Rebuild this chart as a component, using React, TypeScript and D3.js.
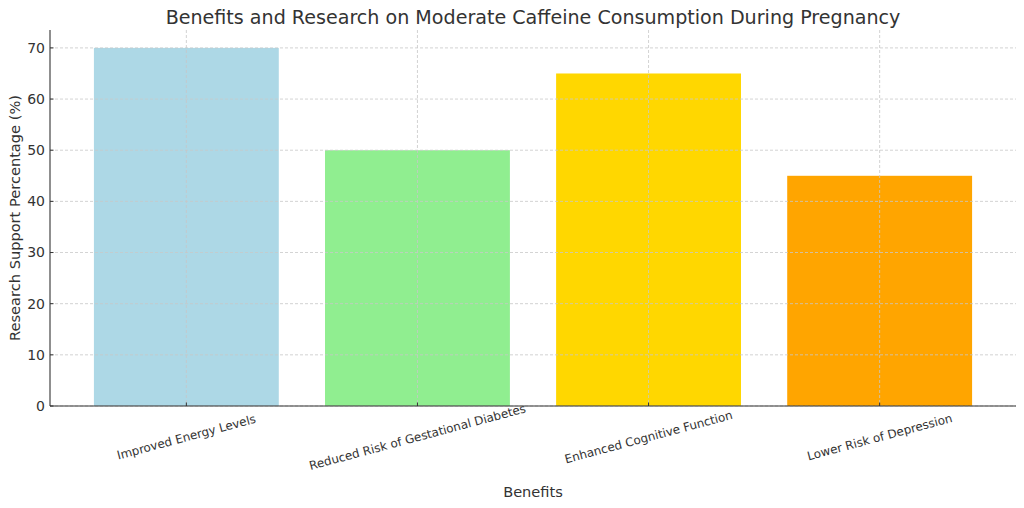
import React from "react";
import * as d3 from "d3";

const categories = [
  "Improved Energy Levels",
  "Reduced Risk of Gestational Diabetes",
  "Enhanced Cognitive Function",
  "Lower Risk of Depression",
];
const values = [70, 50, 65, 45];
const colors = ["#ADD8E6", "#90EE90", "#FFD700", "#FFA500"];
const yTicks = [0, 10, 20, 30, 40, 50, 60, 70];
const title = "Benefits and Research on Moderate Caffeine Consumption During Pregnancy";
const xLabel = "Benefits";
const yLabel = "Research Support Percentage (%)";

const W = 1024;
const H = 508;
const left = 50;
const right = 1016;
const top = 30;
const bottom = 406;
const font = "'DejaVu Sans', sans-serif";
const textColor = "#333333";

export default function App() {
  const x = d3
    .scaleLinear()
    .domain([-0.59, categories.length - 1 + 0.59])
    .range([left, right]);
  const y = d3.scaleLinear().domain([0, 73.5]).range([bottom, top]);
  const bw = x(0.4) - x(-0.4);

  return (
    <svg
      width={W}
      height={H}
      style={{ position: "absolute", left: 0, top: 0, background: "#fff" }}
      fontFamily={font}
    >
      {categories.map((c, i) => (
        <rect
          key={c}
          x={x(i) - bw / 2}
          y={y(values[i])}
          width={bw}
          height={y(0) - y(values[i])}
          fill={colors[i]}
        />
      ))}
      {yTicks.map((t) => (
        <line
          key={"gy" + t}
          x1={left}
          x2={right}
          y1={y(t)}
          y2={y(t)}
          stroke="#c8c8c8"
          strokeWidth={0.8}
          strokeDasharray="3,2"
        />
      ))}
      {categories.map((c, i) => (
        <line
          key={"gx" + c}
          x1={x(i)}
          x2={x(i)}
          y1={top}
          y2={bottom}
          stroke="#c8c8c8"
          strokeWidth={0.8}
          strokeDasharray="3,2"
        />
      ))}
      <line x1={left} x2={left} y1={top} y2={bottom} stroke="#333" strokeWidth={1.1} />
      <line x1={left} x2={right} y1={bottom} y2={bottom} stroke="#333" strokeWidth={1.1} />
      {yTicks.map((t) => (
        <g key={"ty" + t}>
          <line x1={left} x2={left + 3.5} y1={y(t)} y2={y(t)} stroke="#333" strokeWidth={1} />
          <text
            x={left - 5}
            y={y(t)}
            dy="0.35em"
            textAnchor="end"
            fontSize={14}
            fill={textColor}
          >
            {t}
          </text>
        </g>
      ))}
      {categories.map((c, i) => (
        <g key={"tx" + c}>
          <line x1={x(i)} x2={x(i)} y1={bottom} y2={bottom - 3.5} stroke="#333" strokeWidth={1} />
          <text
            transform={`translate(${x(i)},${bottom + 31}) rotate(-15)`}
            textAnchor="middle"
            dy="0.35em"
            fontSize={11.9}
            fill={textColor}
          >
            {c}
          </text>
        </g>
      ))}
      <text
        x={(left + right) / 2}
        y={497}
        textAnchor="middle"
        fontSize={14.6}
        fill={textColor}
      >
        {xLabel}
      </text>
      <text
        transform={`translate(20,${(top + bottom) / 2}) rotate(-90)`}
        textAnchor="middle"
        fontSize={14.6}
        fill={textColor}
      >
        {yLabel}
      </text>
      <text
        x={(left + right) / 2}
        y={24}
        textAnchor="middle"
        fontSize={19.1}
        fill={textColor}
      >
        {title}
      </text>
    </svg>
  );
}
